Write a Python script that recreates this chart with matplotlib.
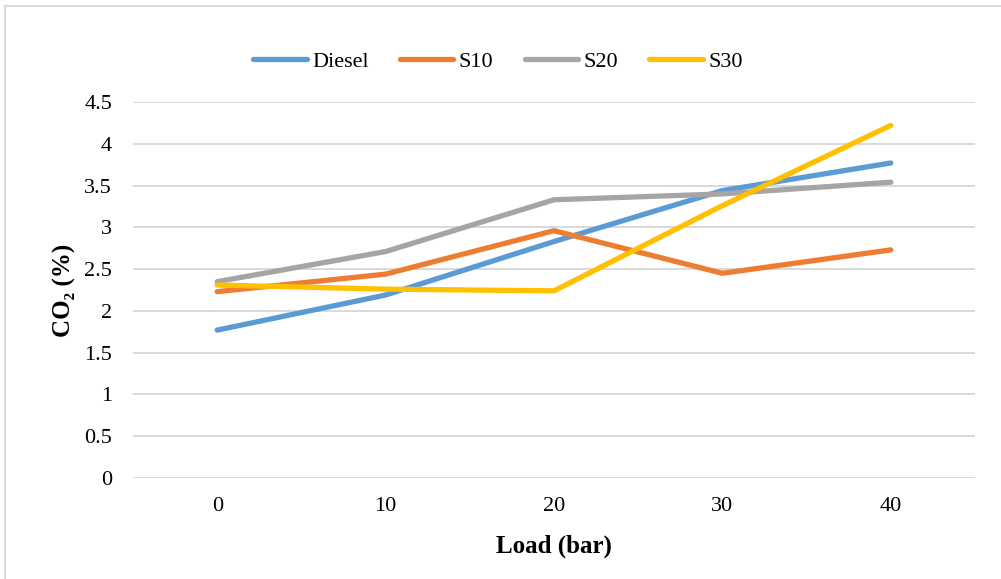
import numpy as np
import matplotlib.pyplot as plt
from matplotlib.lines import Line2D

plt.rcParams['font.family'] = ['Liberation Serif', 'DejaVu Serif']

loads = ['0', '10', '20', '30', '40']
diesel = [1.77, 2.19, 2.83, 3.44, 3.77]
s10 = [2.23, 2.44, 2.96, 2.45, 2.73]
s20 = [2.35, 2.71, 3.33, 3.40, 3.54]
s30 = [2.31, 2.26, 2.24, 3.26, 4.22]

series = [
    ('Diesel', diesel, '#5B9BD5'),
    ('S10', s10, '#ED7D31'),
    ('S20', s20, '#A5A5A5'),
    ('S30', s30, '#FFC000'),
]

fig = plt.figure(figsize=(10.01, 5.79), dpi=100)
ax = fig.add_axes([133 / 1001, 1 - 478 / 579, (975 - 133) / 1001, (478 - 102) / 579])

x = np.arange(len(loads))
for name, vals, color in series:
    ax.plot(x, vals, color=color, lw=3.8, solid_capstyle='round',
            solid_joinstyle='round', label=name)

ax.set_xlim(-0.5, len(loads) - 0.5)
ax.set_ylim(0, 4.5)
ax.set_xticks(x)
ax.set_xticklabels(loads)
ax.set_yticks(np.arange(0, 4.51, 0.5))
ax.set_yticklabels(['0', '0.5', '1', '1.5', '2', '2.5', '3', '3.5', '4', '4.5'])
ax.tick_params(length=0, labelsize=16, colors='#000000', pad=15)
ax.tick_params(axis='x', pad=14)
ax.grid(axis='y', color='#D9D9D9', lw=1.4)
ax.set_axisbelow(True)
for spine in ax.spines.values():
    spine.set_visible(False)

ax.set_xlabel('Load (bar)', fontsize=18, fontweight='bold', labelpad=13)
ax.set_ylabel('CO₂ (%)', fontsize=18, fontweight='bold', labelpad=6)

handles = [Line2D([], [], color=c, lw=3.8, solid_capstyle='round') for _, _, c in series]
fig.legend(handles, [n for n, _, _ in series], loc='center', ncol=4,
           bbox_to_anchor=(498 / 1001, 1 - 62 / 579), frameon=False,
           fontsize=16, handlelength=2.4, handletextpad=0.25, columnspacing=1.4)

# light outer frame on the left and top edges
fig.add_artist(Line2D([5 / 1001, 5 / 1001], [0, 1 - 6 / 579], color='#D9D9D9', lw=1.5,
                      transform=fig.transFigure))
fig.add_artist(Line2D([5 / 1001, 1], [1 - 6 / 579, 1 - 6 / 579], color='#D9D9D9', lw=1.5,
                      transform=fig.transFigure))

fig.savefig('out.png', dpi=100, facecolor='white')
